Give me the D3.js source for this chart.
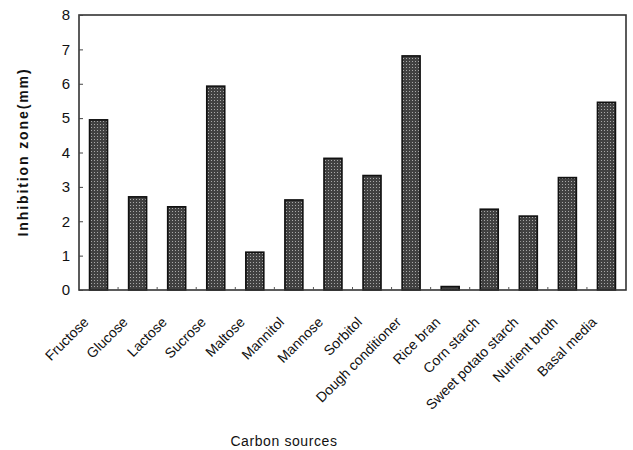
<!DOCTYPE html>
<html><head><meta charset="utf-8">
<script src="https://cdn.jsdelivr.net/npm/d3@7"></script>
<style>body{margin:0;background:#fff}svg{display:block}text{font-family:"Liberation Sans",Arial,sans-serif;fill:#111}</style>
</head><body><svg id="c" width="633" height="450"></svg>
<script>
const categories = ["Fructose","Glucose","Lactose","Sucrose","Maltose","Mannitol","Mannose","Sorbitol","Dough conditioner","Rice bran","Corn starch","Sweet potato starch","Nutrient broth","Basal media"];
const values = [4.95, 2.71, 2.42, 5.93, 1.10, 2.62, 3.83, 3.33, 6.81, 0.10, 2.35, 2.15, 3.27, 5.46];
const yTicks = [0,1,2,3,4,5,6,7,8];
const yTitle = "Inhibition zone(mm)";
const xTitle = "Carbon sources";

const m = {l:79, r:7, t:15, b:160};
const W = 633, H = 450;
const svg = d3.select("#c");
const defs = svg.append("defs");
const pat = defs.append("pattern").attr("id","dots").attr("width",3).attr("height",3).attr("patternUnits","userSpaceOnUse");
pat.append("rect").attr("width",3).attr("height",3).attr("fill","#414141");
pat.append("rect").attr("x",1).attr("y",1).attr("width",1).attr("height",1).attr("fill","#a8a8a8");

const x = d3.scaleBand().domain(categories).range([m.l, W-m.r]).paddingInner(0.54).paddingOuter(0.27);
const y = d3.scaleLinear().domain([0,8]).range([H-m.b, m.t]);

const g = svg.append("g");
g.selectAll("rect.bar").data(categories).enter().append("rect").attr("class","bar")
  .attr("x", d=>x(d)).attr("width", x.bandwidth())
  .attr("y", (d,i)=>y(values[i])).attr("height",(d,i)=>y(0)-y(values[i]))
  .attr("fill","url(#dots)").attr("stroke","#111").attr("stroke-width",1.6);

// frame
svg.append("rect").attr("x",m.l).attr("y",m.t).attr("width",W-m.r-m.l).attr("height",H-m.b-m.t)
  .attr("fill","none").attr("stroke","#333").attr("stroke-width",1.6);

// y axis
const ya = svg.append("g").attr("transform",`translate(${m.l},0)`)
  .call(d3.axisLeft(y).tickValues(yTicks).tickFormat(d3.format("d")).tickSizeInner(-4).tickSizeOuter(0).tickPadding(9));
ya.select(".domain").remove();
ya.selectAll("line").attr("stroke","#444");
ya.selectAll("text").attr("font-size",15).attr("fill","#111");

// x axis ticks at band boundaries
const step = x.step();
const bounds = d3.range(1, categories.length).map(i => x(categories[i]) - step*x.paddingInner()/2);
svg.append("g").selectAll("line").data(bounds).enter().append("line")
  .attr("x1",d=>d).attr("x2",d=>d).attr("y1",y(0)).attr("y2",y(0)-3).attr("stroke","#555");

// x labels
svg.append("g").selectAll("text").data(categories).enter().append("text")
  .attr("transform", d=>`translate(${x(d)+x.bandwidth()/2-9},${y(0)+33}) rotate(-45)`)
  .attr("text-anchor","end").attr("font-size",14).text(d=>d);

// titles
svg.append("text").attr("transform",`translate(28,152) rotate(-90)`).attr("text-anchor","middle")
  .attr("font-size",14).attr("font-weight","bold").attr("letter-spacing","1.9").text(yTitle);
svg.append("text").attr("x",284).attr("y",446).attr("text-anchor","middle")
  .attr("font-size",14).attr("letter-spacing","0.6").text(xTitle);
</script></body></html>
